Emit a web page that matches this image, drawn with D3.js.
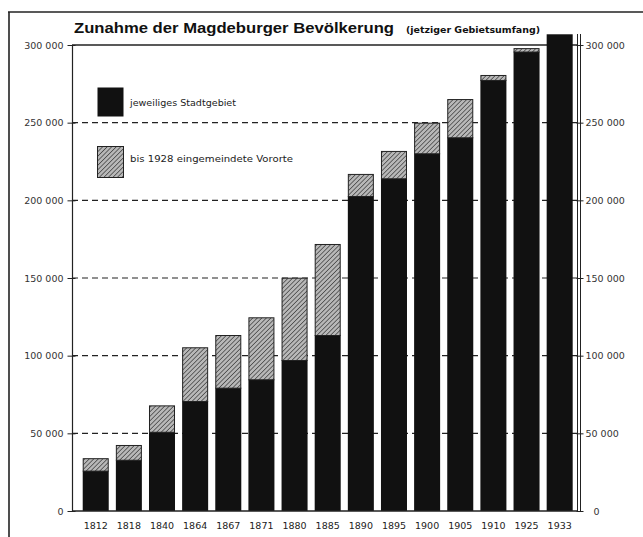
<!DOCTYPE html>
<html><head><meta charset="utf-8">
<script src="https://cdn.jsdelivr.net/npm/d3@7"></script>
<style>html,body{margin:0;padding:0;background:#fff}svg{display:block}</style>
</head><body>
<script>
const years = ["1812","1818","1840","1864","1867","1871","1880","1885","1890","1895","1900","1905","1910","1925","1933"];
const stadtgebiet = [26000,33000,51000,70800,79400,84800,97200,113300,202800,214200,230300,240600,277500,295800,306900];
const vororte = [8000,9500,17000,34600,33900,39900,53000,58600,14200,17600,19700,24600,3200,2200,0];
const yTicks = [0,50000,100000,150000,200000,250000,300000];
const titleText = "Zunahme der Magdeburger Bevölkerung";
const subtitleText = "(jetziger Gebietsumfang)";
const legendLabels = ["jeweiliges Stadtgebiet","bis 1928 eingemeindete Vororte"];

const W=643,H=537;
const svg=d3.select("body").append("svg").attr("width",W).attr("height",H);
const defs=svg.append("defs");
const pat=defs.append("pattern").attr("id","hatch").attr("patternUnits","userSpaceOnUse")
  .attr("width",3.2).attr("height",3.2).attr("patternTransform","rotate(45)");
pat.append("rect").attr("width",3.2).attr("height",3.2).attr("fill","#b8b8b8");
pat.append("line").attr("x1",0).attr("y1",0).attr("x2",0).attr("y2",3.2).attr("stroke","#333").attr("stroke-width",1.3);

// frame
svg.append("line").attr("x1",8).attr("x2",W).attr("y1",12).attr("y2",12).attr("stroke","#222").attr("stroke-width",1.6);
svg.append("line").attr("x1",9).attr("x2",9).attr("y1",12).attr("y2",H).attr("stroke","#222").attr("stroke-width",1.6);

const x=d3.scaleBand().domain(years).range([79.4,576]).paddingInner(0.215).paddingOuter(0.1);
const y=d3.scaleLinear().domain([0,300000]).range([511,45]);
const font="'DejaVu Sans', sans-serif";

// grid lines
svg.append("g").selectAll("line").data(yTicks.filter(d=>d>0&&d<300000)).join("line")
  .attr("x1",72).attr("x2",578).attr("y1",d=>y(d)).attr("y2",d=>y(d))
  .attr("stroke","#222").attr("stroke-width",1.2).attr("stroke-dasharray","6,4");
svg.append("line").attr("x1",72).attr("x2",578).attr("y1",y(300000)).attr("y2",y(300000)).attr("stroke","#222").attr("stroke-width",1.4);

// bars
const g=svg.append("g");
g.selectAll("rect.s").data(years).join("rect").attr("class","s")
  .attr("x",d=>x(d)).attr("width",x.bandwidth())
  .attr("y",(d,i)=>y(stadtgebiet[i])).attr("height",(d,i)=>y(0)-y(stadtgebiet[i]))
  .attr("fill","#111");
g.selectAll("rect.v").data(years.filter((d,i)=>vororte[i]>0)).join("rect").attr("class","v")
  .attr("x",d=>x(d)+0.5).attr("width",x.bandwidth()-1)
  .attr("y",d=>{const i=years.indexOf(d);return y(stadtgebiet[i]+vororte[i])+0.5;})
  .attr("height",d=>{const i=years.indexOf(d);return y(stadtgebiet[i])-y(stadtgebiet[i]+vororte[i]);})
  .attr("fill","url(#hatch)").attr("stroke","#222").attr("stroke-width",1);

// axes
svg.append("line").attr("x1",72).attr("x2",578).attr("y1",y(0)).attr("y2",y(0)).attr("stroke","#222").attr("stroke-width",1.4);
svg.append("line").attr("x1",72.5).attr("x2",72.5).attr("y1",y(300000)).attr("y2",y(0)).attr("stroke","#222").attr("stroke-width",1.2);
svg.append("line").attr("x1",577.5).attr("x2",577.5).attr("y1",34).attr("y2",y(0)).attr("stroke","#222").attr("stroke-width",1);
svg.append("line").attr("x1",580.5).attr("x2",580.5).attr("y1",34).attr("y2",y(0)).attr("stroke","#222").attr("stroke-width",1);

const fmt=d=>d===0?"0":d3.format(",")(d).replace(/,/g," ");
const la=svg.append("g").attr("transform","translate(72.5,0)").call(d3.axisLeft(y).tickValues(yTicks).tickSize(5).tickFormat(fmt));
la.select(".domain").remove();
la.selectAll("line").attr("stroke","#222").attr("x2",-5).attr("x1",3);
la.selectAll("text").attr("x",-9).attr("font-family",font).attr("font-size",9.5).attr("fill","#333");
const ra=svg.append("g").attr("transform","translate(580.5,0)").call(d3.axisRight(y).tickValues(yTicks).tickSize(4).tickFormat(fmt));
ra.select(".domain").remove();
ra.selectAll("line").attr("stroke","#222").attr("x1",-4).attr("x2",3);
ra.selectAll("text").attr("x",d=>d===0?13:5).attr("font-family",font).attr("font-size",9.5).attr("fill","#333");

const xa=svg.append("g").attr("transform","translate(0,"+y(0)+")").call(d3.axisBottom(x).tickSize(0).tickPadding(11));
xa.select(".domain").remove();
xa.selectAll("text").attr("font-family",font).attr("font-size",9.5).attr("fill","#222");

// title
svg.append("text").attr("x",74).attr("y",33).text(titleText).attr("font-family","'Liberation Sans', Arial, sans-serif").attr("font-weight","bold")
  .attr("font-size",15.5).attr("fill","#111").attr("textLength",320).attr("lengthAdjust","spacingAndGlyphs");
svg.append("text").attr("x",406).attr("y",33).text(subtitleText).attr("font-family",font).attr("font-weight","bold")
  .attr("font-size",8).attr("fill","#111").attr("textLength",134).attr("lengthAdjust","spacingAndGlyphs");

// legend
svg.append("rect").attr("x",97.5).attr("y",87.5).attr("width",26).attr("height",29).attr("fill","#111");
svg.append("rect").attr("x",97.5).attr("y",146.5).attr("width",26).attr("height",31).attr("fill","url(#hatch)").attr("stroke","#222").attr("stroke-width",1);
svg.append("text").attr("x",130).attr("y",106).text(legendLabels[0]).attr("font-family",font).attr("font-size",8.5).attr("fill","#222")
  .attr("textLength",106).attr("lengthAdjust","spacingAndGlyphs");
svg.append("text").attr("x",130).attr("y",162).text(legendLabels[1]).attr("font-family",font).attr("font-size",8.5).attr("fill","#222")
  .attr("textLength",163).attr("lengthAdjust","spacingAndGlyphs");
</script>
</body></html>
